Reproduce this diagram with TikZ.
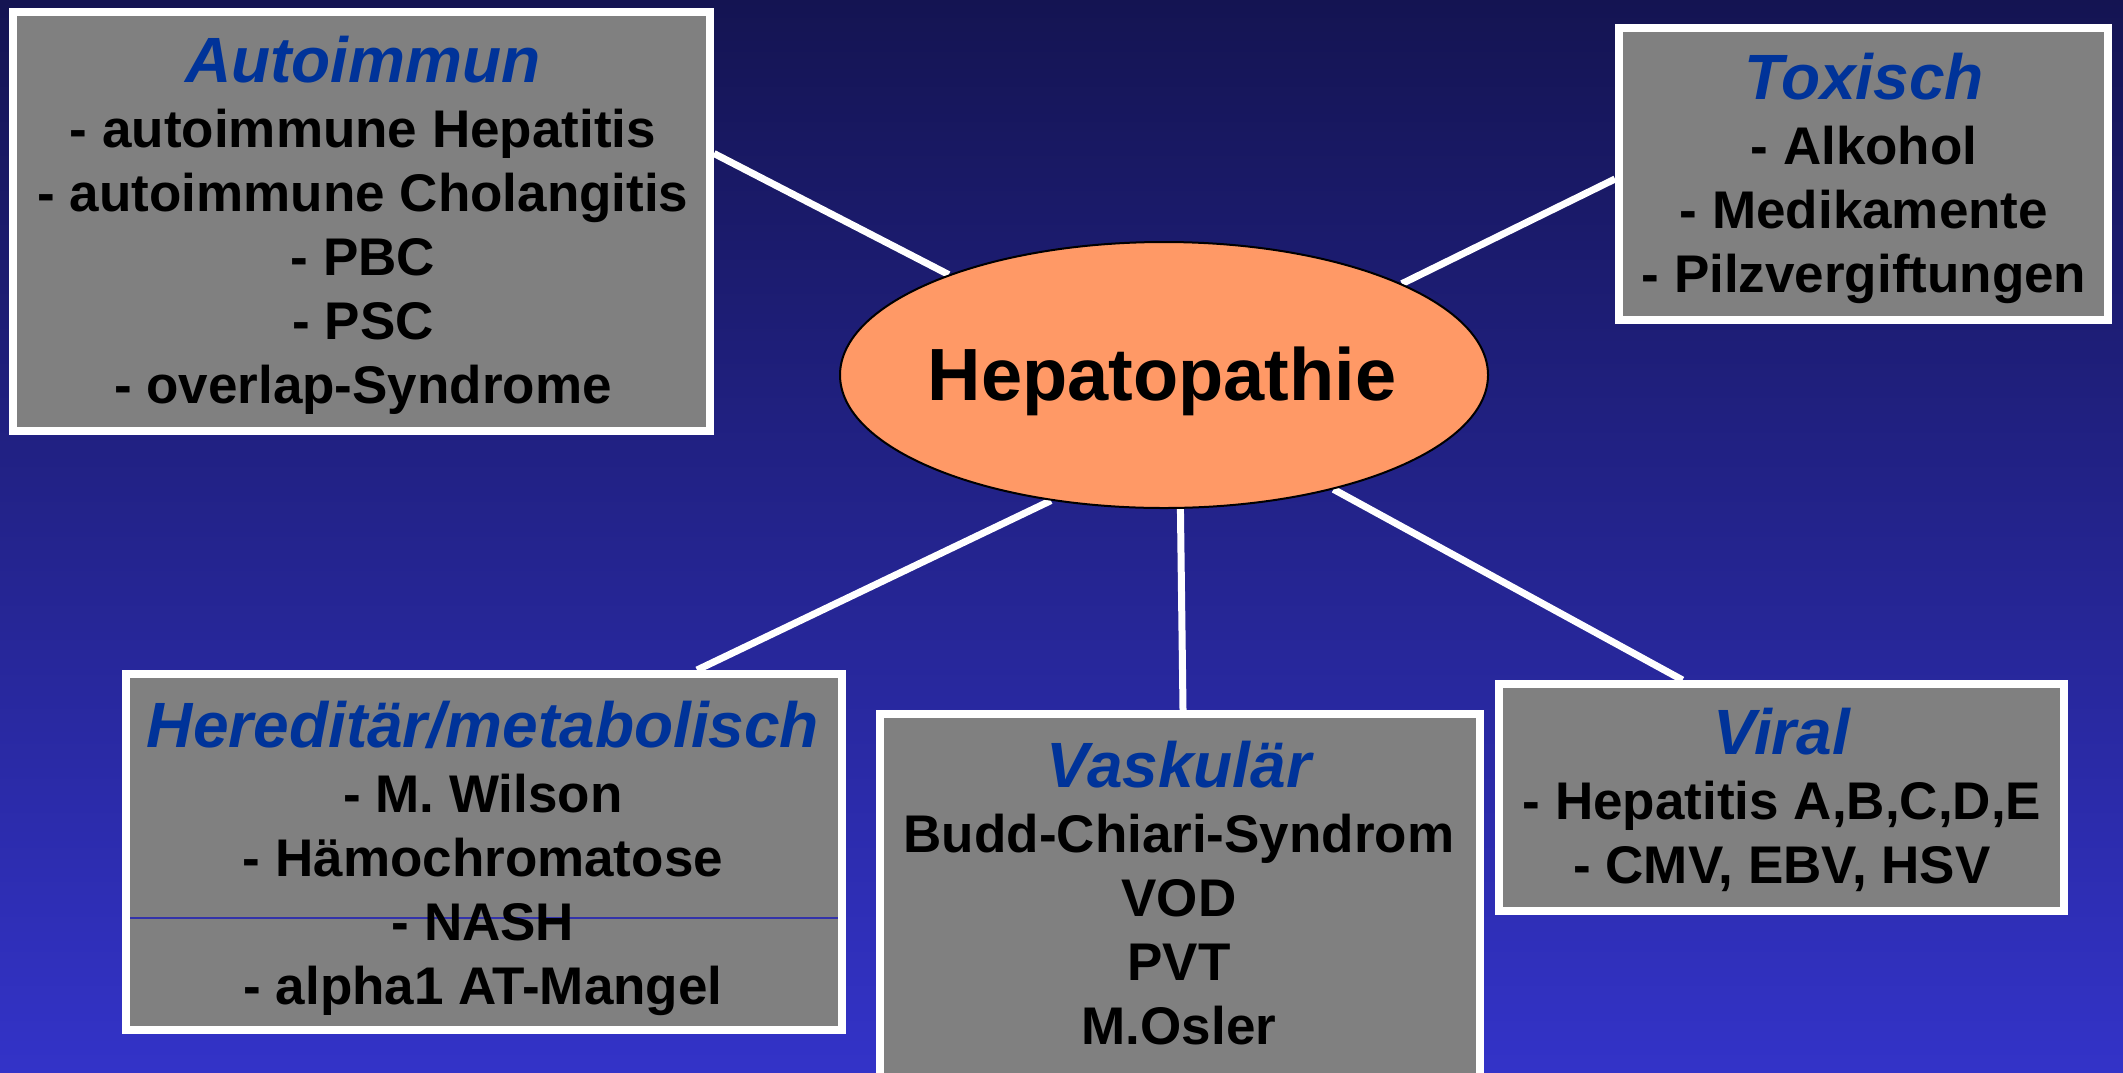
\documentclass[tikz,border=0pt]{standalone}
\usepackage{fontspec}
\setmainfont{Liberation Sans}
\usetikzlibrary{shapes.geometric}
\pgfdeclarelayer{bg}
\pgfsetlayers{bg,main}
\definecolor{bgtop}{RGB}{20,20,82}
\definecolor{bgbot}{RGB}{51,51,200}
\definecolor{boxgray}{RGB}{128,128,128}
\definecolor{titleblue}{RGB}{0,51,153}
\definecolor{hepfill}{RGB}{255,153,102}
\definecolor{thinblue}{RGB}{51,51,170}
\newcommand\cattitle[1]{{\fontsize{32}{32}\selectfont\bfseries\itshape\color{titleblue}#1}}
\begin{document}
\begin{tikzpicture}[x=0.5pt,y=-0.5pt,
  catbox/.style={rectangle, draw=white, fill=boxgray, line width=4pt, inner sep=0pt},
  cattext/.style={align=center, font=\fontsize{26.5}{32}\selectfont\bfseries, text=black, inner sep=0pt},
  connector/.style={draw=white, line width=3.5pt},
  hepnode/.style={ellipse, draw=black, line width=1pt, fill=hepfill, inner sep=0pt},
]
\useasboundingbox (0,0) rectangle (2123,1072);
\begin{pgfonlayer}{bg}
\shade[top color=bgtop, bottom color=bgbot] (0,0) rectangle (2123,1072);
\end{pgfonlayer}
\clip (0,0) rectangle (2123,1072);

% boxes
\node[catbox, minimum width=348.5pt, minimum height=209.5pt] (auto) at (361.5,221.5) {};
\node[catbox, minimum width=244.5pt, minimum height=146pt] (tox) at (1863.5,174) {};
\node[catbox, minimum width=358pt, minimum height=178pt] (hered) at (484,852) {};
\node[catbox, minimum width=300pt, minimum height=190.5pt] (vask) at (1180,904.5) {};
\node[catbox, minimum width=282.5pt, minimum height=113.5pt] (viral) at (1781.5,797.5) {};

% central ellipse
\node[hepnode, minimum width=324pt, minimum height=133pt] (hep) at (1164,375) {};

% thin line in Hereditaer box
\draw[thinblue, line width=0.6pt] (130,918) -- (838,918);

% texts
\node[cattext] (autotext) at (363,225.5) {\cattitle{Autoimmun}\\[0.5pt]- autoimmune Hepatitis\\- autoimmune Cholangitis\\- PBC\\- PSC\\- overlap-Syndrome};
\node[cattext] (toxtext) at (1864,178.5) {\cattitle{Toxisch}\\[0.5pt]- Alkohol\\- Medikamente\\- Pilzvergiftungen};
\node[cattext] (heredtext) at (483,858.5) {\cattitle{Hereditär/metabolisch}\\[0.5pt]- M. Wilson\\- Hämochromatose\\- NASH\\- alpha1 AT-Mangel};
\node[cattext] (vasktext) at (1179,893) {\cattitle{Vaskulär}\\[0.5pt]Budd-Chiari-Syndrom\\VOD\\PVT\\M.Osler};
\node[cattext] (viraltext) at (1782,800) {\cattitle{Viral}\\[0.5pt]- Hepatitis A,B,C,D,E\\- CMV, EBV, HSV};
\node[font=\fontsize{37}{44}\selectfont\bfseries, inner sep=0pt] (heptext) at (1162,381) {Hepatopathie};

% connectors
\begin{pgfonlayer}{bg}
\draw[connector] ([yshift=34pt]auto.east) -- (hep.155.8);
\draw[connector] ([yshift=-2.5pt]tox.west) -- (hep.21.3);
\draw[connector] ([xshift=106.5pt]hered.north) -- (hep.228.6);
\draw[connector] ([xshift=1.5pt]vask.north) -- (hep.277.2);
\draw[connector] ([xshift=-49.5pt]viral.north) -- (hep.-34.8);
\end{pgfonlayer}
\end{tikzpicture}
\end{document}
